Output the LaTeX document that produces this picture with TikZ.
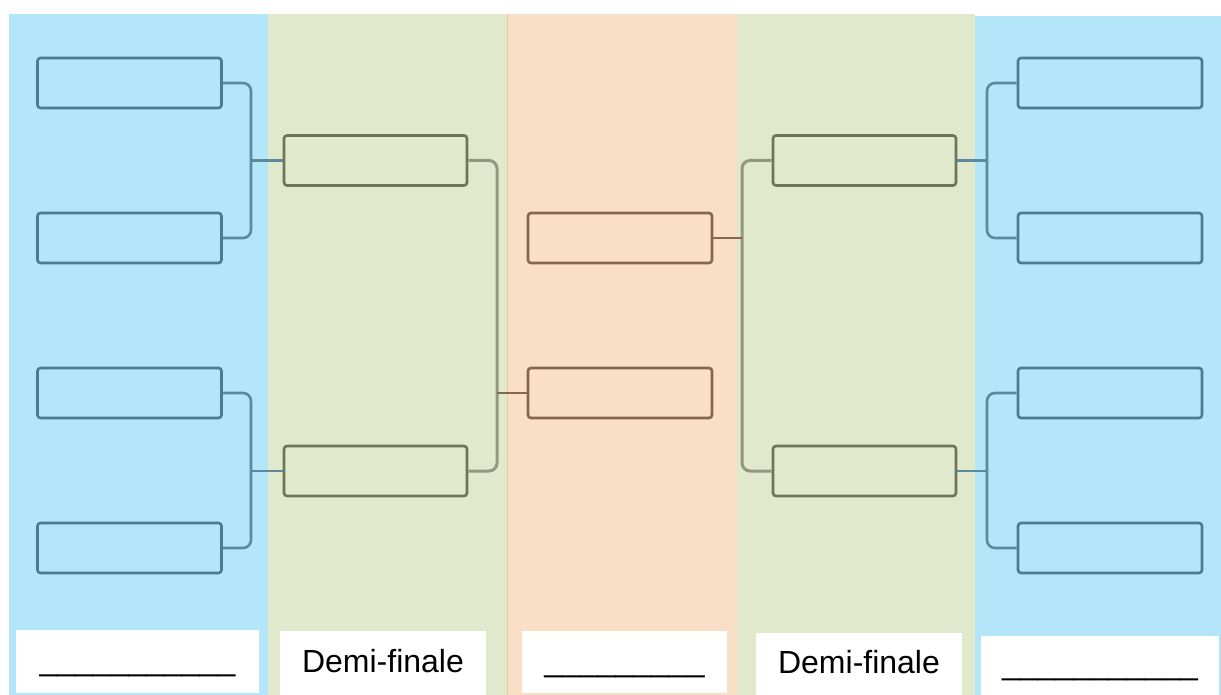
\documentclass[tikz,border=0pt]{standalone}
\usepackage{fontspec}
\setmainfont{Liberation Sans}
\definecolor{bluebg}{HTML}{B3E6F8}
\definecolor{greenbg}{HTML}{E1E9CD}
\definecolor{orangebg}{HTML}{FADFC7}
\definecolor{orangeedge}{HTML}{F3C898}
\definecolor{bluestroke}{HTML}{4A7C91}
\definecolor{greenstroke}{HTML}{6E7555}
\definecolor{orangestroke}{HTML}{85674F}
\tikzset{
  slot/.style={rectangle, rounded corners=3pt, minimum width=184pt, minimum height=50pt, inner sep=0pt, line width=2.6pt, fill=none},
  bslot/.style={slot, draw=bluestroke},
  gslot/.style={slot, draw=greenstroke, minimum width=183pt},
  oslot/.style={slot, draw=orangestroke},
  bcon/.style={draw=bluestroke!90!white, line width=2.6pt, rounded corners=8pt},
  gcon/.style={draw=greenstroke!75!white, line width=3pt, rounded corners=8pt},
  ocon/.style={draw=orangestroke, line width=2.4pt},
  lbl/.style={rectangle, fill=white, inner sep=0pt, text height=24pt, text depth=6pt, font=\fontsize{32}{38}\selectfont},
}
\begin{document}
\begin{tikzpicture}[x=1pt,y=-1pt]
\useasboundingbox (0,0) rectangle (1221,695);
% columns
\fill[bluebg] (9,14) rectangle (268,695);
\fill[greenbg] (268,14) rectangle (507,695);
\fill[orangebg] (507,14) rectangle (737,695);
\fill[greenbg] (737,14) rectangle (975,695);
\fill[bluebg] (975,16) rectangle (1221,695);
\draw[orangeedge, line width=1pt] (507,14) -- (507,695);

% left blue slots
\node[bslot] (lb1) at (129.5,83) {};
\node[bslot] (lb2) at (129.5,238) {};
\node[bslot] (lb3) at (129.5,393) {};
\node[bslot] (lb4) at (129.5,548) {};
% left green slots
\node[gslot] (lg1) at (375.5,160.5) {};
\node[gslot] (lg2) at (375.5,471) {};
% orange slots
\node[oslot] (o1) at (620,238) {};
\node[oslot] (o2) at (620,393) {};
% right green slots
\node[gslot] (rg1) at (864.5,160.5) {};
\node[gslot] (rg2) at (864.5,471) {};
% right blue slots
\node[bslot] (rb1) at (1110,83) {};
\node[bslot] (rb2) at (1110,238) {};
\node[bslot] (rb3) at (1110,393) {};
\node[bslot] (rb4) at (1110,548) {};

% junction coordinates
\coordinate (jl1) at (251,160.5);
\coordinate (jl2) at (251,471);
\coordinate (jlg) at (497,393);
\coordinate (jrg) at (742,238);
\coordinate (jr1) at (987,160.5);
\coordinate (jr2) at (987,471);

% left brackets
\draw[bcon] (lb1.east) -| (jl1) |- (lb2.east);
\draw[bcon] (jl1) -- (lg1.west);
\draw[bcon] (lb3.east) -| (jl2) |- (lb4.east);
\draw[bcon] (jl2) -- (lg2.west);
\draw[gcon] (lg1.east) -| (jlg) |- (lg2.east);
\draw[ocon] (jlg) -- (o2.west);
% right brackets
\draw[bcon] (rb1.west) -| (jr1) |- (rb2.west);
\draw[bcon] (jr1) -- (rg1.east);
\draw[bcon] (rb3.west) -| (jr2) |- (rb4.west);
\draw[bcon] (jr2) -- (rg2.east);
\draw[gcon] (rg1.west) -| (jrg) |- (rg2.west);
\draw[ocon] (jrg) -- (o1.east);

% bottom labels
\node[lbl, minimum width=243pt, minimum height=63pt] (t1) at (137.5,661.5) {\_\_\_\_\_\_\_\_\_\_\_};
\node[lbl, minimum width=206pt, minimum height=64pt] (t2) at (383,663) {Demi-finale};
\node[lbl, minimum width=205pt, minimum height=62pt] (t3) at (624.5,662) {\_\_\_\_\_\_\_\_\_};
\node[lbl, minimum width=206pt, minimum height=62pt] (t4) at (859,664) {Demi-finale};
\node[lbl, minimum width=238pt, minimum height=59pt] (t5) at (1100,665.5) {\_\_\_\_\_\_\_\_\_\_\_};
\end{tikzpicture}
\end{document}
